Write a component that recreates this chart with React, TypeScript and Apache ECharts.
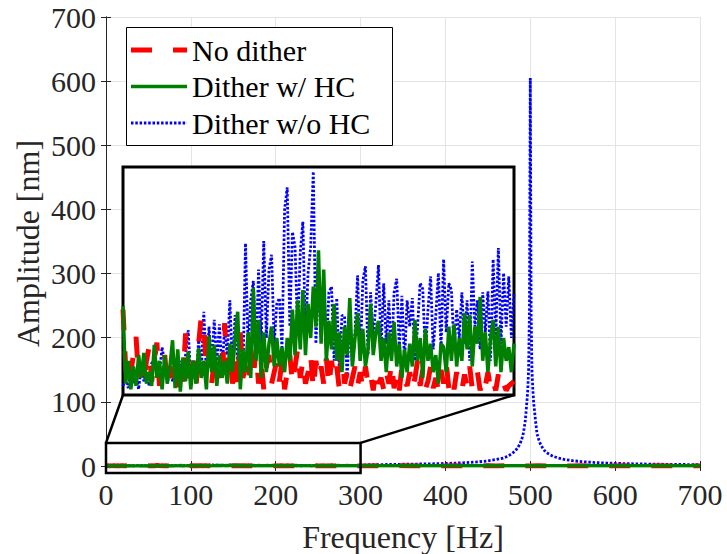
import React, { useEffect, useRef } from "react";
import * as echarts from "echarts";

// ---------- data ----------
const xTicks = ["0", "100", "200", "300", "400", "500", "600", "700"];
const yTicks = ["0", "100", "200", "300", "400", "500", "600", "700"];
const legendNames = ["No dither", "Dither w/ HC", "Dither w/o HC"];
const xTitle = "Frequency [Hz]";
const yTitle = "Amplitude [nm]";

// low-frequency part (0..300 Hz, 2 Hz spacing), amplitudes in nm
const lowFreqStep = 2;
const noDitherLow = [
  0.75, 0.25, 0.08, 0.2, 0.35, 0.51, 0.15, 0.25, 0.1, 0.3,
  0.42, 0.12, 0.3, 0.46, 0.08, 0.2, 0.35, 0.1, 0.25, 0.15,
  0.3, 0.05, 0.22, 0.12, 0.54, 0.2, 0.1, 0.3, 0.05, 0.45,
  0.68, 0.62, 0.2, 0.35, 0.1, 0.3, 0.15, 0.25, 0.08, 0.63,
  0.2, 0.35, 0.1, 0.3, 0.05, 0.55, 0.15, 0.25, 0.1, 0.3,
  0.15, 0.4, 0.1, 0.3, 0.05, 0.25, 0.35, 0.1, 0.2, 0.3,
  0.12, 0.3, 0.05, 0.2, 0.35, 0.1, 0.25, 0.4, 0.15, 0.3,
  0.1, 0.2, 0.35, 0.05, 0.3, 0.15, 0.25, 0.1, 0.32, 0.08,
  0.3, 0.15, 0.25, 0.05, 0.38, 0.1, 0.2, 0.05, 0.15, 0.25,
  0.08, 0.2, 0.05, 0.25, 0.1, 0.18, 0.04, 0.22, 0.1, 0.15,
  0.05, 0.2, 0.1, 0.28, 0.06, 0.18, 0.04, 0.25, 0.12, 0.08,
  0.2, 0.05, 0.15, 0.3, 0.08, 0.22, 0.05, 0.12, 0.25, 0.06,
  0.15, 0.04, 0.22, 0.1, 0.28, 0.06, 0.15, 0.05, 0.2, 0.1,
  0.04, 0.18, 0.08, 0.25, 0.05, 0.12, 0.2, 0.04, 0.15, 0.08,
  0.2, 0.05, 0.12, 0.04, 0.18, 0.06, 0.1, 0.04, 0.08, 0.1, 0.12,
];
const withHcLow = [
  0.78, 0.1, 0.3, 0.05, 0.25, 0.08, 0.35, 0.15, 0.37, 0.1,
  0.2, 0.08, 0.44, 0.15, 0.3, 0.05, 0.35, 0.1, 0.25, 0.48,
  0.06, 0.4, 0.03, 0.33, 0.12, 0.38, 0.05, 0.3, 0.1, 0.41,
  0.15, 0.3, 0.05, 0.52, 0.2, 0.44, 0.08, 0.35, 0.15, 0.3,
  0.1, 0.45, 0.2, 0.5, 0.73, 0.05, 0.4, 0.2, 0.55, 0.15,
  0.94, 0.3, 0.66, 0.15, 0.55, 0.2, 0.45, 0.6, 0.25, 0.5,
  0.25, 0.42, 0.2, 0.5, 0.3, 0.75, 0.35, 0.83, 0.4, 0.92,
  0.35, 0.8, 0.5, 0.95, 0.6, 1.27, 0.45, 1.1, 0.3, 0.65,
  0.4, 0.8, 0.3, 0.55, 0.2, 0.6, 0.35, 0.85, 0.25, 0.5,
  0.72, 0.3, 0.58, 0.25, 0.4, 0.8, 0.35, 0.55, 0.65, 0.3,
  0.5, 0.2, 0.55, 0.3, 0.64, 0.25, 0.45, 0.15, 0.4, 0.2,
  0.45, 0.25, 0.66, 0.3, 0.5, 0.15, 0.58, 0.3, 0.45, 0.2,
  0.35, 0.1, 0.45, 0.42, 0.2, 0.6, 0.3, 0.62, 0.25, 0.5,
  0.3, 0.72, 0.4, 0.7, 0.25, 0.6, 0.45, 0.86, 0.3, 0.55,
  0.2, 0.5, 0.66, 0.25, 0.6, 0.2, 0.5, 0.3, 0.42, 0.2, 0.45,
];
const withoutHcLow = [
  0.08, 0.15, 0.06, 0.22, 0.1, 0.18, 0.05, 0.25, 0.12, 0.2,
  0.08, 0.28, 0.3, 0.22, 0.2, 0.42, 0.28, 0.1, 0.26, 0.12,
  0.2, 0.09, 0.3, 0.12, 0.35, 0.57, 0.15, 0.3, 0.1, 0.48,
  0.2, 0.73, 0.18, 0.6, 0.25, 0.66, 0.3, 0.62, 0.2, 0.6,
  0.35, 0.83, 0.22, 0.7, 0.3, 0.5, 0.15, 1.33, 0.4, 0.83,
  1.0, 0.3, 1.1, 0.45, 1.35, 0.5, 1.1, 1.23, 0.45, 0.8,
  0.85, 0.4, 1.63, 1.82, 0.6, 1.43, 1.3, 0.55, 1.25, 1.52,
  0.5, 1.07, 1.3, 1.96, 0.45, 1.0, 0.55, 1.0, 0.4, 0.9,
  0.95, 0.3, 0.85, 0.2, 0.7, 0.69, 0.15, 0.72, 0.25, 0.55,
  1.05, 0.3, 1.0, 1.13, 0.35, 0.9, 0.5, 0.8, 1.14, 0.4,
  0.98, 0.45, 0.83, 0.3, 0.9, 1.02, 0.4, 0.87, 0.3, 0.83,
  0.6, 0.85, 0.3, 0.6, 0.98, 0.93, 0.35, 0.75, 1.04, 0.4,
  0.7, 1.07, 0.4, 1.19, 0.55, 0.98, 0.92, 0.4, 0.75, 0.5,
  0.9, 0.45, 0.83, 0.3, 1.17, 0.6, 0.83, 0.4, 0.9, 0.55,
  0.91, 0.3, 1.19, 0.5, 1.29, 0.45, 1.07, 0.6, 1.04, 0.5, 0.89,
];

// high-frequency part (310..700 Hz, 10 Hz spacing)
const highFreqStart = 310;
const highFreqStep = 10;
const noDitherHigh = [
  0.12, 0.2, 0.08, 0.15, 0.25, 0.1, 0.18, 0.06, 0.22, 0.12,
  0.3, 0.1, 0.16, 0.08, 0.2, 0.14, 0.26, 0.09, 0.18, 0.12,
  0.22, 0.07, 0.15, 0.2, 0.1, 0.24, 0.12, 0.08, 0.18, 0.14,
  0.2, 0.06, 0.16, 0.11, 0.22, 0.09, 0.15, 0.19, 0.1, 0.13,
];
const withHcHigh = [
  0.3, 0.45, 0.2, 0.5, 0.35, 0.6, 0.25, 0.4, 0.55, 0.3,
  0.48, 0.22, 0.5, 0.38, 0.6, 0.3, 0.45, 0.52, 0.28, 0.4,
  0.35, 0.5, 0.25, 0.42, 0.3, 0.48, 0.36, 0.22, 0.4, 0.3,
  0.45, 0.26, 0.38, 0.5, 0.3, 0.42, 0.28, 0.35, 0.4, 0.3,
];
// dither w/o HC: resonance at 500 Hz
const withoutHcHighFreq = [
  310, 330, 350, 370, 390, 410, 425, 440, 450, 460, 468, 474, 478, 482, 485,
  488, 490, 492, 494, 495, 496, 497, 498, 499, 500, 501, 502, 503, 504, 505,
  506, 508, 510, 512, 515, 518, 522, 527, 533, 540, 550, 560, 575, 590, 610,
  630, 660, 700,
];
const withoutHcHigh = [
  2.0, 2.3, 2.7, 3.1, 3.6, 4.4, 5.3, 6.6, 7.9, 10.2, 12.4, 15.5, 19.0, 23, 28,
  35, 42, 52, 70, 84, 100, 118, 150, 240, 605, 235, 148, 120, 98, 86,
  72, 50, 41, 34, 27, 22, 18.5, 15, 12.5, 10.3, 8.2, 6.9, 5.5, 4.6, 3.8,
  3.2, 2.6, 2.1,
];

// zoom window shown in the inset
const zoomX = [0, 300];
const zoomY = [-11, 36];
const insetY = [0, 2];

// ---------- helpers ----------
const lowPairs = (vals: number[]) => vals.map((v, i) => [i * lowFreqStep, v]);
const highPairs = (vals: number[]) => vals.map((v, i) => [highFreqStart + i * highFreqStep, v]);

const FONT = "Liberation Serif";
const FS = 30;
const RED = "#ff0000";
const GREEN = "#008000";
const BLUE = "#0000ff";
const AX = "#262626";

const GRID = { left: 106, top: 17, width: 594, height: 449 };
const INSET = { left: 123, top: 167, width: 391, height: 228 };
const LEGEND = { x: 126, y: 27, w: 266, h: 118, row0: 23, rowGap: 36.5, iconX: 5, iconW: 56, textX: 66 };

export default function App() {
  const ref = useRef<HTMLDivElement>(null);
  useEffect(() => {
    if (!ref.current) return;
    const chart = echarts.init(ref.current, undefined, { renderer: "svg" });

    const noDitherAll = lowPairs(noDitherLow).concat(highPairs(noDitherHigh));
    const withHcAll = lowPairs(withHcLow).concat(highPairs(withHcHigh));
    const withoutHcAll = lowPairs(withoutHcLow).concat(
      withoutHcHighFreq.map((f, i) => [f, withoutHcHigh[i]])
    );

    const redStyle = { color: RED, width: 5, type: [21, 21] as any, cap: "butt" as const };
    const greenStyle = { color: GREEN, width: 3.5, type: "solid" as const };
    const blueStyle = { color: BLUE, width: 2.8, type: [2.5, 1.8] as any, cap: "butt" as const };

    const lineBase = { type: "line" as const, symbol: "none", showSymbol: false, animation: false };

    const tickAxisCommon = {
      axisLine: { show: true, lineStyle: { color: AX, width: 1 } },
      axisTick: { show: true, inside: true, length: 5, lineStyle: { color: AX, width: 1 } },
    };

    chart.setOption({
      animation: false,
      backgroundColor: "#ffffff",
      grid: [
        { ...GRID, containLabel: false },
        { ...INSET, containLabel: false },
      ],
      legend: { show: false },
      xAxis: [
        {
          type: "value",
          gridIndex: 0,
          min: 0,
          max: 700,
          interval: 100,
          ...tickAxisCommon,
          axisLabel: {
            fontFamily: FONT,
            fontSize: FS,
            color: AX,
            margin: 13,
            formatter: (v: number) => xTicks[Math.round(v / 100)] ?? "",
          },
          splitLine: { show: true, lineStyle: { color: "#e4e4e4", width: 1 } },
        },
        {
          type: "value",
          gridIndex: 0,
          position: "top",
          min: 0,
          max: 700,
          interval: 100,
          ...tickAxisCommon,
          axisLabel: { show: false },
          splitLine: { show: false },
        },
        { type: "value", gridIndex: 1, min: zoomX[0], max: zoomX[1], show: false },
      ],
      yAxis: [
        {
          type: "value",
          gridIndex: 0,
          min: 0,
          max: 700,
          interval: 100,
          ...tickAxisCommon,
          axisLabel: {
            fontFamily: FONT,
            fontSize: FS,
            color: AX,
            margin: 10,
            formatter: (v: number) => yTicks[Math.round(v / 100)] ?? "",
          },
          splitLine: { show: true, lineStyle: { color: "#e4e4e4", width: 1 } },
        },
        {
          type: "value",
          gridIndex: 0,
          position: "right",
          min: 0,
          max: 700,
          interval: 100,
          ...tickAxisCommon,
          axisLabel: { show: false },
          splitLine: { show: false },
        },
        { type: "value", gridIndex: 1, min: insetY[0], max: insetY[1], show: false },
      ],
      series: [
        { ...lineBase, name: "Dither w/o HC", xAxisIndex: 0, yAxisIndex: 0, data: withoutHcAll, lineStyle: blueStyle, itemStyle: { color: BLUE }, z: 2 },
        { ...lineBase, name: "No dither", xAxisIndex: 0, yAxisIndex: 0, data: noDitherAll, lineStyle: redStyle, itemStyle: { color: RED }, z: 2 },
        { ...lineBase, name: "Dither w/ HC", xAxisIndex: 0, yAxisIndex: 0, data: withHcAll, lineStyle: greenStyle, itemStyle: { color: GREEN }, z: 2 },
        { ...lineBase, name: "Dither w/o HC", xAxisIndex: 2, yAxisIndex: 2, data: lowPairs(withoutHcLow), lineStyle: blueStyle, itemStyle: { color: BLUE }, z: 6 },
        { ...lineBase, name: "No dither", xAxisIndex: 2, yAxisIndex: 2, data: lowPairs(noDitherLow), lineStyle: redStyle, itemStyle: { color: RED }, z: 6 },
        { ...lineBase, name: "Dither w/ HC", xAxisIndex: 2, yAxisIndex: 2, data: lowPairs(withHcLow), lineStyle: greenStyle, itemStyle: { color: GREEN }, z: 6 },
      ],
    });

    const main = { xAxisIndex: 0, yAxisIndex: 0 };
    const ins = { xAxisIndex: 2, yAxisIndex: 2 };
    const bTL = chart.convertToPixel(main, [zoomX[0], zoomY[1]]) as number[];
    const bBR = chart.convertToPixel(main, [zoomX[1], zoomY[0]]) as number[];
    const iTL = chart.convertToPixel(ins, [zoomX[0], insetY[1]]) as number[];
    const iBR = chart.convertToPixel(ins, [zoomX[1], insetY[0]]) as number[];

    const legendStyles = [
      { stroke: RED, lineWidth: 5, lineDash: [21, 21] },
      { stroke: GREEN, lineWidth: 3.5 },
      { stroke: BLUE, lineWidth: 2.8, lineDash: [2.5, 1.8] },
    ];
    const legendItems: any[] = [];
    legendNames.forEach((name, i) => {
      const cy = LEGEND.y + LEGEND.row0 + i * LEGEND.rowGap;
      legendItems.push({
        type: "line",
        z: 8,
        shape: { x1: LEGEND.x + LEGEND.iconX, y1: cy, x2: LEGEND.x + LEGEND.iconX + LEGEND.iconW, y2: cy },
        style: { ...legendStyles[i], lineCap: "butt" },
      });
      legendItems.push({
        type: "text",
        z: 8,
        x: LEGEND.x + LEGEND.textX,
        y: cy,
        style: { text: name, fontFamily: FONT, fontSize: FS, fill: "#000", verticalAlign: "middle", align: "left" },
      });
    });

    chart.setOption({
      graphic: [
        {
          type: "rect",
          z: 5,
          shape: { x: iTL[0], y: iTL[1], width: iBR[0] - iTL[0], height: iBR[1] - iTL[1] },
          style: { fill: "#ffffff", stroke: "#000000", lineWidth: 3 },
        },
        {
          type: "rect",
          z: 5,
          shape: { x: bTL[0], y: bTL[1], width: bBR[0] - bTL[0], height: bBR[1] - bTL[1] },
          style: { fill: "none", stroke: "#000000", lineWidth: 2.5 },
        },
        {
          type: "line",
          z: 5,
          shape: { x1: bTL[0], y1: bTL[1], x2: iTL[0], y2: iBR[1] },
          style: { stroke: "#000000", lineWidth: 2.5 },
        },
        {
          type: "line",
          z: 5,
          shape: { x1: bBR[0], y1: bTL[1], x2: iBR[0], y2: iBR[1] },
          style: { stroke: "#000000", lineWidth: 2.5 },
        },
        {
          type: "rect",
          z: 7,
          shape: { x: LEGEND.x + 0.5, y: LEGEND.y + 0.5, width: LEGEND.w, height: LEGEND.h },
          style: { fill: "#ffffff", stroke: "#000000", lineWidth: 1 },
        },
        ...legendItems,
        {
          type: "text",
          z: 8,
          x: GRID.left + GRID.width / 2,
          y: GRID.top + GRID.height + 71,
          style: { text: xTitle, fontFamily: FONT, fontSize: 32, fill: AX, align: "center", verticalAlign: "middle" },
        },
        {
          type: "text",
          z: 8,
          x: 28,
          y: GRID.top + GRID.height / 2 + 2,
          rotation: Math.PI / 2,
          style: { text: yTitle, fontFamily: FONT, fontSize: 32, fill: AX, align: "center", verticalAlign: "middle" },
        },
      ],
    });

    return () => chart.dispose();
  }, []);

  return <div ref={ref} style={{ width: 727, height: 554, position: "absolute", left: 0, top: 0 }} />;
}
